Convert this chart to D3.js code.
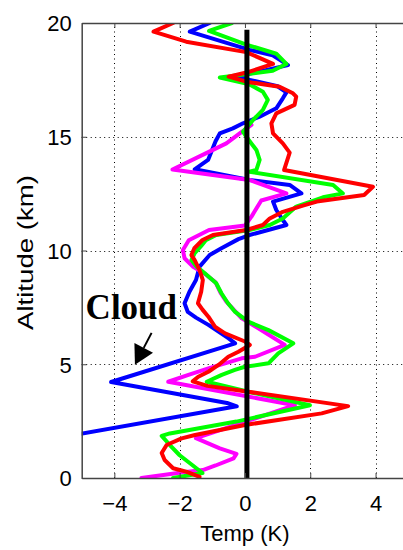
<!DOCTYPE html>
<html>
<head>
<meta charset="utf-8">
<script src="https://cdn.jsdelivr.net/npm/d3@7"></script>
<style>
  html, body { margin: 0; padding: 0; background: #fff; }
  svg { display: block; font-family: "Liberation Sans", Arial, Helvetica, sans-serif; }
</style>
</head>
<body>
<svg id="chart" width="403" height="550"></svg>
<script>
// Temperature perturbation profiles [Temp (K), Altitude (km)]
const blueProfile = [
  [-5.6, 1.8], [-0.25, 3.15], [-0.55, 3.3], [-4.1, 4.22], [-0.3, 5.92], [-0.5, 6.14],
  [-1.12, 6.73], [-1.5, 7.05], [-1.75, 7.3], [-1.85, 7.68], [-1.7, 8.19], [-1.5, 8.7],
  [-1.39, 9.29], [-1.08, 9.8], [-0.72, 10.1], [-0.2, 10.5], [0.14, 10.68], [1.27, 11.12],
  [1.16, 11.34], [0.96, 11.78], [0.86, 12.15], [1.73, 12.51], [1.37, 12.88], [0.14, 13.1],
  [-1.54, 13.57], [-1.13, 13.98], [-0.9, 14.8], [-0.77, 15.15], [-0.37, 15.37], [-0.06, 15.59],
  [0.45, 15.88], [0.96, 16.25], [1.16, 16.69], [1.27, 16.95], [1.0, 17.22], [0.14, 17.5],
  [-0.26, 17.64], [1.32, 18.15], [0.85, 18.58], [0.14, 18.82], [-1.69, 19.62], [-1.08, 20.0]
];

const greenProfile = [
  [-2.2, 0.0], [-1.3, 0.22], [-2.0, 1.0], [-2.3, 1.45], [-2.55, 1.85], [-2.3, 1.96],
  [-0.26, 2.48], [1.99, 3.2], [0.1, 3.79], [-1.17, 4.23], [-0.71, 4.53], [-0.31, 4.75],
  [0.0, 4.89], [0.72, 5.04], [1.02, 5.48], [1.48, 5.92], [0.72, 6.5], [0.1, 6.87],
  [-0.3, 7.3], [-0.52, 7.68], [-0.72, 8.12], [-0.88, 8.56], [-1.23, 9.0], [-1.48, 9.29],
  [-1.64, 9.58], [-1.54, 9.88], [-1.34, 10.2], [-1.2, 10.45], [-0.88, 10.68], [0.14, 10.9],
  [0.76, 11.12], [1.16, 11.41], [1.57, 11.93], [2.39, 12.34], [3.0, 12.51], [2.7, 12.88],
  [0.14, 13.46], [0.35, 13.54], [0.45, 13.98], [0.35, 14.42], [0.04, 15.0], [-0.06, 15.22],
  [0.25, 15.74], [0.55, 16.18], [0.7, 16.62], [0.55, 16.98], [0.14, 17.3], [-0.77, 17.6],
  [0.85, 17.9], [1.27, 18.2], [0.96, 18.65], [0.04, 19.05], [-1.1, 19.65], [-0.4, 20.0]
];

const redProfile = [
  [-1.39, 0.05], [-1.8, 0.28], [-2.2, 0.43], [-2.46, 0.79], [-2.55, 1.1], [-2.4, 1.45],
  [-1.94, 1.74], [-1.53, 1.89], [0.0, 2.33], [2.35, 2.84], [3.16, 3.16], [-1.15, 4.05],
  [-1.6, 4.25], [-1.43, 4.45], [-1.12, 4.67], [-0.81, 4.97], [-0.51, 5.33], [-0.2, 5.55],
  [0.15, 5.85], [0.0, 6.0], [-0.61, 6.36], [-0.92, 6.65], [-1.12, 7.09], [-1.3, 7.4],
  [-1.44, 7.68], [-1.34, 8.19], [-1.29, 8.7], [-1.39, 9.14], [-1.54, 9.58], [-1.64, 9.8],
  [-1.55, 10.1], [-1.3, 10.46], [-0.98, 10.68], [0.04, 10.9], [0.55, 11.12], [0.76, 11.41],
  [1.16, 11.7], [1.8, 11.98], [2.2, 12.15], [3.65, 12.44], [3.92, 12.8], [1.2, 13.54],
  [1.37, 14.3], [1.16, 14.71], [0.86, 15.15], [0.81, 15.59], [0.96, 16.03], [1.52, 16.4],
  [1.57, 16.76], [1.47, 16.91], [1.06, 17.2], [0.04, 17.42], [-0.5, 17.64], [0.14, 17.86],
  [0.86, 18.2], [0.04, 18.72], [-1.8, 19.18], [-2.8, 19.62], [-2.2, 20.0]
];

const magentaProfile = [
  [-3.17, 0.0], [-2.0, 0.23], [-1.29, 0.35], [-0.9, 0.55], [-0.35, 0.86], [-0.26, 1.06],
  [-0.77, 1.3], [-1.5, 1.75], [1.53, 3.2], [-2.35, 4.23], [-1.73, 4.53], [-1.12, 4.82],
  [-0.1, 5.26], [0.31, 5.33], [1.22, 5.85], [0.41, 6.58], [-0.1, 7.02], [-0.57, 7.75],
  [-0.75, 8.15], [-0.9, 8.6], [-1.25, 9.0], [-1.6, 9.3], [-1.85, 9.66], [-1.9, 10.02],
  [-1.72, 10.45], [-1.1, 10.9], [0.0, 11.1], [0.2, 11.49], [0.5, 12.2], [1.27, 12.51],
  [0.14, 13.1], [-2.22, 13.56], [-1.2, 14.27], [-0.57, 14.71], [-0.16, 15.15], [0.2, 15.52]
];

// Reference (zero) line
const zeroLine = [[0.06, 0.0], [0.06, 19.7]];

const xTicks = [-4, -2, 0, 2, 4];
const yTicks = [0, 5, 10, 15, 20];

// "Cloud" annotation anchor points in data units
const cloudLabel = { text: "Cloud", t: -4.88, z: 7.0 };
const cloudArrow = { from: [-2.86, 6.38], to: [-3.37, 4.98] };

const svg = d3.select("#chart");
const frame = { left: 81.7, right: 408.2, top: 23, bottom: 478 };

const x = d3.scaleLinear().domain([-5, 5]).range([frame.left, frame.right]);
const y = d3.scaleLinear().domain([0, 20]).range([frame.bottom, frame.top]);

svg.append("defs").append("clipPath").attr("id", "plot-clip")
  .append("rect")
  .attr("x", x(-5)).attr("y", y(20))
  .attr("width", x(5) - x(-5)).attr("height", y(0) - y(20));

// Dotted grid
const grid = svg.append("g").attr("stroke", "#000").attr("stroke-width", 1)
  .attr("stroke-dasharray", "1,3.5");
grid.selectAll("line.vx").data(xTicks).join("line")
  .attr("x1", d => Math.round(x(d)) + 0.5).attr("x2", d => Math.round(x(d)) + 0.5)
  .attr("y1", y(0)).attr("y2", y(20));
grid.selectAll("line.hy").data(yTicks.filter(d => d > 0 && d < 20)).join("line")
  .attr("y1", d => Math.round(y(d)) + 0.5).attr("y2", d => Math.round(y(d)) + 0.5)
  .attr("x1", x(-5)).attr("x2", x(5));

// Profiles
const line = d3.line().x(d => x(d[0])).y(d => y(d[1]));
const plot = svg.append("g").attr("clip-path", "url(#plot-clip)");
const series = [
  { data: blueProfile, color: "#0000ff" },
  { data: magentaProfile, color: "#ff00ff" },
  { data: greenProfile, color: "#00ff00" },
  { data: redProfile, color: "#ff0000" }
];
plot.selectAll("path.profile").data(series).join("path")
  .attr("class", "profile")
  .attr("d", d => line(d.data))
  .attr("fill", "none")
  .attr("stroke", d => d.color)
  .attr("stroke-width", 4)
  .attr("stroke-linejoin", "round")
  .attr("stroke-linecap", "round");

plot.append("path")
  .attr("d", line(zeroLine))
  .attr("fill", "none")
  .attr("stroke", "#000")
  .attr("stroke-width", 5);

// Axes (ticks point inward)
const axisColor = "#444";
const xAxis = svg.append("g").attr("transform", `translate(0,${y(0)})`)
  .call(d3.axisBottom(x).tickValues(xTicks).tickSizeInner(-5).tickSizeOuter(0)
    .tickPadding(17).tickFormat(d => d < 0 ? "\u2212" + Math.abs(d) : d));
const yAxis = svg.append("g").attr("transform", `translate(${x(-5)},0)`)
  .call(d3.axisLeft(y).tickValues(yTicks).tickSizeInner(-5).tickSizeOuter(0)
    .tickPadding(10));
const xTop = svg.append("g").attr("transform", `translate(0,${y(20)})`)
  .call(d3.axisTop(x).tickValues(xTicks).tickSizeInner(-5).tickSizeOuter(0).tickFormat(""));

[xAxis, yAxis, xTop].forEach(g => {
  g.select(".domain").attr("stroke", axisColor).attr("stroke-width", 1.5);
  g.selectAll(".tick line").attr("stroke", axisColor).attr("stroke-width", 1);
  g.selectAll(".tick text").attr("fill", "#000").attr("font-size", 22)
    .attr("font-family", "'Liberation Sans', Arial, sans-serif");
});
xAxis.selectAll(".tick text").attr("dy", "0.71em");
yAxis.selectAll(".tick text").attr("dy", "0.36em");

// Axis titles
svg.append("text")
  .attr("x", x(0)).attr("y", 541)
  .attr("text-anchor", "middle")
  .attr("font-size", 22)
  .text("Temp (K)");

svg.append("text")
  .attr("transform", `translate(33,${(y(0) + y(20)) / 2 + 2}) rotate(-90)`)
  .attr("text-anchor", "middle")
  .attr("font-size", 22)
  .attr("textLength", 155)
  .attr("lengthAdjust", "spacingAndGlyphs")
  .text("Altitude (km)");

// Cloud annotation
svg.append("text")
  .attr("x", x(cloudLabel.t)).attr("y", y(cloudLabel.z))
  .style("font-family", "'Liberation Serif', 'Times New Roman', Times, serif")
  .style("font-weight", "bold")
  .style("font-size", "35px")
  .text(cloudLabel.text);

const [fx, fy] = [x(cloudArrow.from[0]), y(cloudArrow.from[1])];
const [tx, ty] = [x(cloudArrow.to[0]), y(cloudArrow.to[1])];
const ang = Math.atan2(ty - fy, tx - fx);
const headLen = 19, headHalf = 10.5;
const bx = tx - headLen * Math.cos(ang), by = ty - headLen * Math.sin(ang);
svg.append("line")
  .attr("x1", fx).attr("y1", fy).attr("x2", bx).attr("y2", by)
  .attr("stroke", "#000").attr("stroke-width", 2);
svg.append("path")
  .attr("d", `M${tx},${ty}L${bx + headHalf * Math.sin(ang)},${by - headHalf * Math.cos(ang)}L${bx - headHalf * Math.sin(ang)},${by + headHalf * Math.cos(ang)}Z`)
  .attr("fill", "#000");
</script>
</body>
</html>
